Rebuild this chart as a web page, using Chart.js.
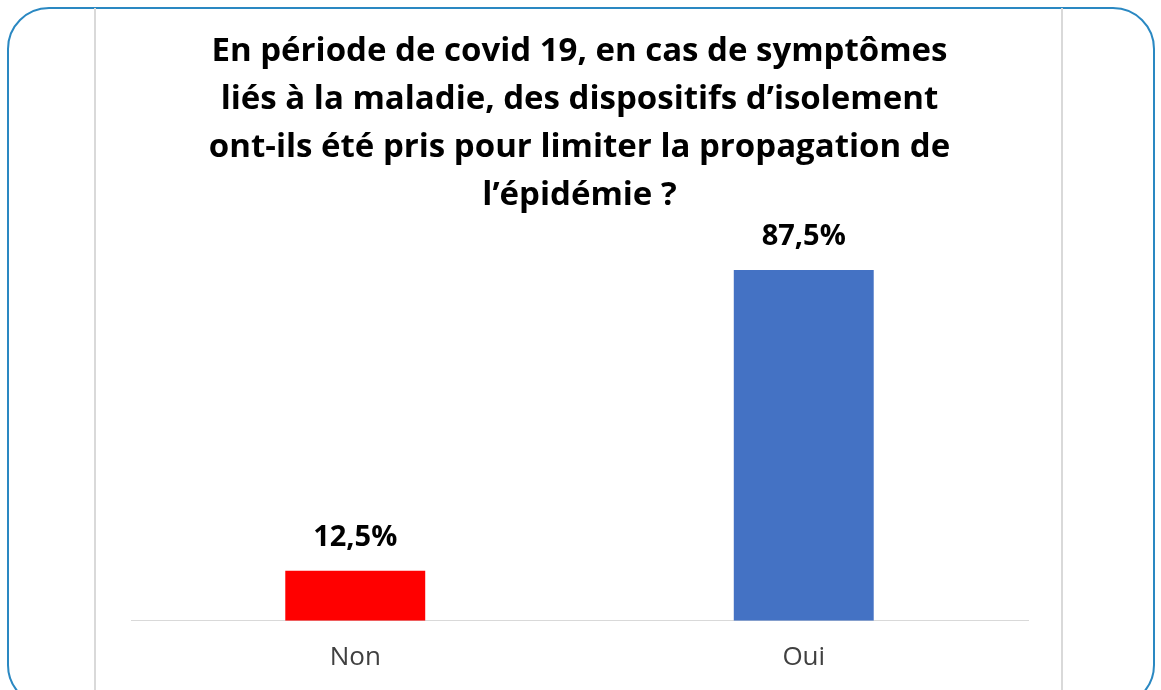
<!DOCTYPE html>
<html>
<head>
<meta charset="utf-8">
<script src="https://cdn.jsdelivr.net/npm/chart.js@4.4.0/dist/chart.umd.min.js"></script>
<style>
  html, body { margin: 0; padding: 0; background: #fff; }
  #wrap { position: relative; width: 1161px; height: 690px; overflow: hidden; }
  .frame { position: absolute; left: 7px; top: 7px; width: 1148px; height: 700px;
           border: 2px solid #2a88c2; border-radius: 42px; box-sizing: border-box; }
  .vline { position: absolute; top: 8px; width: 2px; height: 690px; background: #d9d9d9; }
  canvas { position: absolute; left: 0; top: 0; }
</style>
</head>
<body>
<div id="wrap">
  <div class="frame"></div>
  <div class="vline" style="left:94px"></div>
  <div class="vline" style="left:1061px"></div>
  <canvas id="chart" width="1161" height="690"></canvas>
</div>
<script>
const categories = ['Non', 'Oui'];
const values = [12.5, 87.5];
const barColors = ['#ff0000', '#4472c4'];
const titleLines = [
    'En période de covid 19, en cas de symptômes',
    'liés à la maladie, des dispositifs d\u2019isolement',
    'ont-ils été pris pour limiter la propagation de',
    'l\u2019épidémie ?'
];

document.addEventListener('DOMContentLoaded', function () {

    // percent labels above bars, french decimal comma
    const barLabels = {
        id: 'barLabels',
        afterDatasetsDraw(chart) {
            const ctx = chart.ctx;
            const meta = chart.getDatasetMeta(0);
            ctx.save();
            ctx.font = 'bold 29px "Open Sans"';
            ctx.fillStyle = '#000';
            ctx.textAlign = 'center';
            ctx.textBaseline = 'middle';
            meta.data.forEach((bar, i) => {
                const txt = values[i].toFixed(1).replace('.', ',') + '%';
                ctx.fillText(txt, bar.x, bar.y - 33);
            });
            ctx.restore();
        }
    };

    const ctx = document.getElementById('chart').getContext('2d');
    new Chart(ctx, {
        type: 'bar',
        data: {
            labels: categories,
            datasets: [{
                data: values,
                backgroundColor: barColors,
                borderWidth: 0,
                categoryPercentage: 1,
                barPercentage: 0.312
            }]
        },
        options: {
            responsive: false,
            animation: false,
            layout: { padding: { top: 0, left: 131, right: 133, bottom: -4 } },
            plugins: {
                legend: { display: false },
                tooltip: { enabled: false },
                title: {
                    display: true,
                    text: titleLines,
                    color: '#000',
                    font: { family: 'Open Sans', size: 33, weight: 'bold', lineHeight: 1.4545 },
                    padding: { top: 28, bottom: 0 }
                }
            },
            scales: {
                x: {
                    grid: { display: false, drawTicks: false },
                    border: { display: true, color: '#d9d9d9', width: 1 },
                    ticks: { color: '#404040', padding: 21, font: { family: 'Open Sans', size: 26 } }
                },
                y: {
                    display: false,
                    min: 0,
                    max: 100
                }
            }
        },
        plugins: [barLabels]
    });
});
</script>
</body>
</html>
